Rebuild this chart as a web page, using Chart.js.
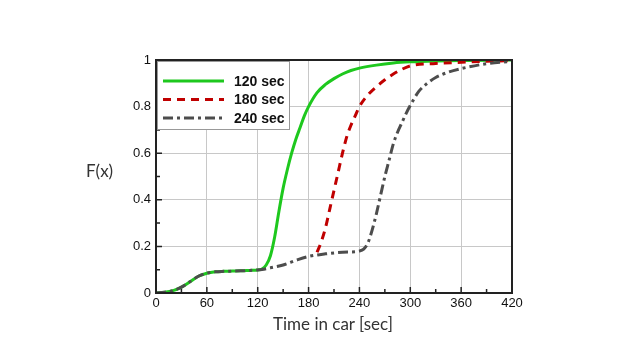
<!DOCTYPE html>
<html lang="en">
<head>
    <meta charset="UTF-8">
    <title>F(x) vs time in car</title>
    <style>
        body {
            margin: 0;
            background: #ffffff;
        }
        #wrap {
            position: relative;
            width: 640px;
            height: 364px;
        }
        .axisTitle {
            position: absolute;
            font-family: Lato, 'Open Sans', sans-serif;
            font-size: 17px;
            color: #333;
            white-space: nowrap;
        }
        #yTitle {
            left: 86px;
            top: 160px;
        }
        #xTitle {
            left: 273px;
            top: 313px;
        }
    </style>
</head>
<body>
    <div id="wrap">
        <canvas id="chart" width="640" height="364"></canvas>
        <div class="axisTitle" id="yTitle">F(x)</div>
        <div class="axisTitle" id="xTitle">Time in car [sec]</div>
    </div>

    <script src="https://cdn.jsdelivr.net/npm/chart.js"></script>
    <script>
        // values
        const seriesLabels = ['120 sec', '180 sec', '240 sec'];

        const t120 = [0, 10, 20, 30, 40, 50, 60, 70, 80, 90, 100, 110, 120, 125, 130, 135, 140, 145, 150, 155, 160, 165, 170, 175, 180, 190, 200, 210, 220, 230, 240, 260, 280, 300, 330, 360, 420];
        const f120 = [0, 0.003, 0.01, 0.025, 0.048, 0.072, 0.085, 0.091, 0.093, 0.094, 0.095, 0.097, 0.099, 0.103, 0.12, 0.16, 0.24, 0.35, 0.45, 0.53, 0.6, 0.66, 0.71, 0.76, 0.8, 0.86, 0.895, 0.92, 0.94, 0.955, 0.965, 0.978, 0.987, 0.992, 0.996, 0.998, 1];

        const t180 = [190, 195, 200, 205, 210, 215, 220, 225, 230, 235, 240, 250, 260, 270, 280, 290, 300, 330, 360, 390, 420];
        const f180 = [0.175, 0.22, 0.28, 0.36, 0.44, 0.52, 0.6, 0.67, 0.72, 0.76, 0.8, 0.85, 0.885, 0.915, 0.94, 0.96, 0.975, 0.985, 0.99, 0.995, 0.997];

        const t240 = [0, 10, 20, 30, 40, 50, 60, 70, 80, 90, 100, 110, 120, 125, 135, 150, 165, 180, 200, 220, 240, 245, 250, 255, 260, 265, 270, 275, 280, 285, 290, 295, 300, 310, 320, 330, 345, 360, 390, 420];
        const f240 = [0, 0.003, 0.01, 0.025, 0.048, 0.072, 0.085, 0.091, 0.093, 0.094, 0.095, 0.097, 0.099, 0.101, 0.108, 0.12, 0.14, 0.157, 0.168, 0.175, 0.18, 0.188, 0.215, 0.27, 0.34, 0.42, 0.5, 0.57, 0.64, 0.69, 0.73, 0.77, 0.805, 0.865, 0.9, 0.925, 0.948, 0.963, 0.984, 0.994];

        const xTicks = [0, 60, 120, 180, 240, 300, 360, 420];
        const xMinor = [30, 90, 150, 210, 270, 330, 390];
        const yTicks = [0, 0.2, 0.4, 0.6, 0.8, 1];
        const yMinor = [0.1, 0.3, 0.5, 0.7, 0.9];

        function toPoints(xs, ys) {
            return xs.map((x, i) => ({ x: x, y: ys[i] }));
        }

        const tickFont = { family: "'Liberation Sans', Arial, sans-serif", size: 13 };

        // frame, inward ticks and the boxed legend
        const framePlugin = {
            id: 'frame',
            afterDatasetsDraw(chart) {
                const ctx = chart.ctx;
                const a = chart.chartArea;
                const xs = chart.scales.x;
                const ys = chart.scales.y;
                ctx.save();

                ctx.strokeStyle = '#222';
                ctx.lineWidth = 1.5;
                ctx.beginPath();
                xTicks.forEach(v => {
                    const px = xs.getPixelForValue(v);
                    ctx.moveTo(px, a.bottom); ctx.lineTo(px, a.bottom - 6);
                });
                xMinor.forEach(v => {
                    const px = xs.getPixelForValue(v);
                    ctx.moveTo(px, a.bottom); ctx.lineTo(px, a.bottom - 4);
                });
                yTicks.forEach(v => {
                    const py = ys.getPixelForValue(v);
                    ctx.moveTo(a.left, py); ctx.lineTo(a.left + 6, py);
                });
                yMinor.forEach(v => {
                    const py = ys.getPixelForValue(v);
                    ctx.moveTo(a.left, py); ctx.lineTo(a.left + 4, py);
                });
                ctx.stroke();

                ctx.strokeStyle = '#222';
                ctx.lineWidth = 2;
                ctx.strokeRect(a.left, a.top, a.right - a.left, a.bottom - a.top);

                // legend
                const lx = a.left + 1, ly = a.top + 1;
                ctx.fillStyle = '#fff';
                ctx.fillRect(lx, ly, 132, 68);
                ctx.strokeStyle = '#999';
                ctx.lineWidth = 1;
                ctx.strokeRect(lx + 0.5, ly + 0.5, 132, 68);

                const order = [2, 1, 0];
                ctx.font = "bold 14px 'Liberation Sans', Arial, sans-serif";
                ctx.textBaseline = 'middle';
                order.forEach((di, row) => {
                    const ds = chart.data.datasets[di];
                    const y = ly + 20 + row * 18.5;
                    ctx.strokeStyle = ds.borderColor;
                    ctx.lineWidth = ds.borderWidth;
                    ctx.setLineDash(ds.borderDash || []);
                    ctx.beginPath();
                    ctx.moveTo(lx + 6, y);
                    ctx.lineTo(lx + 67, y);
                    ctx.stroke();
                    ctx.setLineDash([]);
                    ctx.fillStyle = '#111';
                    ctx.fillText(seriesLabels[row], lx + 77, y + 1);
                });
                ctx.restore();
            }
        };

        new Chart(document.getElementById('chart'), {
            type: 'scatter',
            data: {
                datasets: [
                    {
                        label: seriesLabels[2],
                        data: toPoints(t240, f240),
                        borderColor: '#4d4d4d',
                        borderWidth: 3,
                        borderDash: [10, 4, 3, 4],
                        order: 0
                    },
                    {
                        label: seriesLabels[1],
                        data: toPoints(t180, f180),
                        borderColor: '#c00000',
                        borderWidth: 3,
                        borderDash: [8, 6],
                        order: 1
                    },
                    {
                        label: seriesLabels[0],
                        data: toPoints(t120, f120),
                        borderColor: '#1ec81e',
                        borderWidth: 3,
                        order: 2
                    }
                ]
            },
            options: {
                responsive: false,
                animation: false,
                showLine: true,
                layout: { padding: { top: 60, right: 128, left: 0, bottom: 0 } },
                elements: {
                    point: { radius: 0, hoverRadius: 0 },
                    line: { cubicInterpolationMode: 'monotone', fill: false }
                },
                plugins: {
                    legend: { display: false },
                    tooltip: { enabled: false }
                },
                scales: {
                    x: {
                        type: 'linear',
                        min: 0,
                        max: 420,
                        afterFit(scale) { scale.height = 71; },
                        afterBuildTicks(scale) { scale.ticks = xTicks.map(v => ({ value: v })); },
                        grid: { color: '#c8c8c8', lineWidth: 1, drawTicks: false },
                        border: { display: false },
                        ticks: { font: tickFont, color: '#111', padding: 3, maxRotation: 0, callback: v => String(v) }
                    },
                    y: {
                        type: 'linear',
                        min: 0,
                        max: 1,
                        afterFit(scale) { scale.width = 156; },
                        afterBuildTicks(scale) { scale.ticks = yTicks.map(v => ({ value: v })); },
                        grid: { color: '#c8c8c8', lineWidth: 1, drawTicks: false },
                        border: { display: false },
                        ticks: { font: tickFont, color: '#111', padding: 5, callback: v => String(v) }
                    }
                }
            },
            plugins: [framePlugin]
        });
    </script>
</body>
</html>
